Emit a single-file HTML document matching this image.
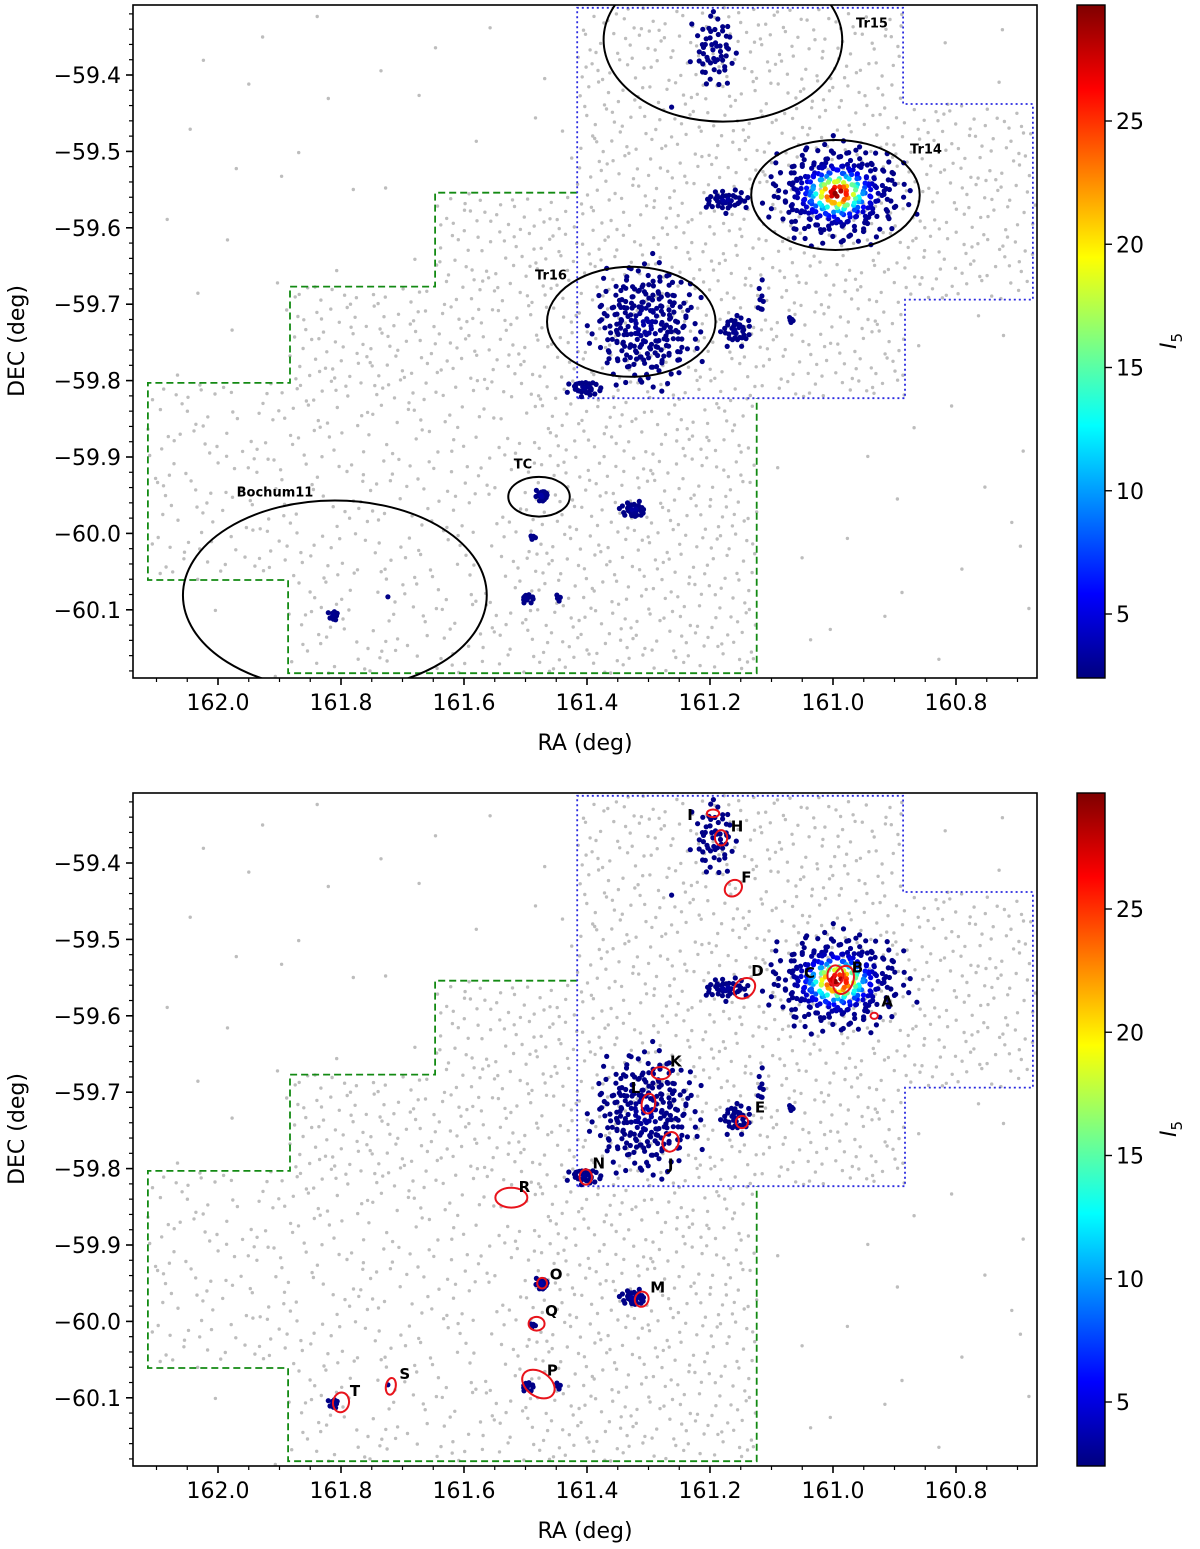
<!DOCTYPE html>
<html><head><meta charset="utf-8">
<style>
html,body{margin:0;padding:0;background:#fff;}
svg{display:block;font-family:"DejaVu Sans","Liberation Sans",sans-serif;}
</style></head>
<body>
<svg id="chart" width="1200" height="1549" viewBox="0 0 1200 1549" xmlns="http://www.w3.org/2000/svg">
<defs>
<linearGradient id="jet" x1="0" y1="1" x2="0" y2="0">
<stop offset="0" stop-color="#00007f"/><stop offset="0.125" stop-color="#0000ff"/>
<stop offset="0.375" stop-color="#00ffff"/><stop offset="0.625" stop-color="#ffff00"/>
<stop offset="0.875" stop-color="#ff0000"/><stop offset="1" stop-color="#7f0000"/>
</linearGradient>
<clipPath id="clipTop"><rect x="133" y="5" width="904" height="673"/></clipPath>
<clipPath id="clipBot"><rect x="133" y="793" width="904" height="673"/></clipPath>
</defs>
</svg>
<script>
// ---- data ----
const xTicks = [162.0, 161.8, 161.6, 161.4, 161.2, 161.0, 160.8];
const yTicks = [-59.4, -59.5, -59.6, -59.7, -59.8, -59.9, -60.0, -60.1];
const cbTicks = [5, 10, 15, 20, 25];
const greenRA  = [161.416,161.647,161.647,161.883,161.883,162.114,162.114,161.886,161.886,161.124,161.124];
const greenDEC = [-59.554,-59.554,-59.677,-59.677,-59.803,-59.803,-60.061,-60.061,-60.183,-60.183,-59.823];
const blueRA   = [161.416,161.416,160.886,160.886,160.675,160.675,160.883,160.883,161.416];
const blueDEC  = [-59.823,-59.312,-59.312,-59.438,-59.438,-59.694,-59.694,-59.823,-59.823];
const footRA   = [161.416,160.886,160.886,160.675,160.675,160.883,160.883,161.124,161.124,161.886,161.886,162.114,162.114,161.883,161.883,161.647,161.647,161.416];
const footDEC  = [-59.312,-59.312,-59.438,-59.438,-59.694,-59.694,-59.823,-59.823,-60.183,-60.183,-60.061,-60.061,-59.803,-59.803,-59.677,-59.677,-59.554,-59.554];
// cluster groups: centre, spread (deg), member count, peak I5, core width
const clRA   = [161.193,160.993,161.174,161.305,161.157,161.117,161.403,161.473,161.324,161.489,161.497,161.445,161.812,161.723,161.068,161.262];
const clDEC  = [-59.367,-59.555,-59.564,-59.727,-59.734,-59.694,-59.810,-59.950,-59.969,-60.005,-60.085,-60.085,-60.107,-60.083,-59.721,-59.442];
const clSRA  = [0.034,0.100,0.035,0.078,0.022,0.006,0.025,0.010,0.020,0.005,0.012,0.006,0.008,0.001,0.004,0.001];
const clSDEC = [0.044,0.058,0.013,0.072,0.020,0.022,0.010,0.008,0.010,0.003,0.006,0.005,0.008,0.001,0.004,0.001];
const clN    = [55,320,40,250,35,8,30,18,30,5,12,4,10,1,5,1];
const clPeak = [3,29.5,3.5,3.5,3,3,3,4,3.5,3,3,3,3,3,3,3];
const clCore = [0.26,0.36,0.26,0.26,0.26,0.26,0.26,0.26,0.26,0.26,0.26,0.26,0.26,0.26,0.26,0.26];
// top-panel named regions (black ellipses)
const regName = ["Tr15","Tr14","Tr16","TC","Bochum11"];
const regRA   = [161.179,160.996,161.328,161.478,161.810];
const regDEC  = [-59.354,-59.557,-59.723,-59.952,-60.081];
const regA    = [0.194,0.137,0.137,0.050,0.247];
const regB    = [0.107,0.072,0.072,0.026,0.124];
// bottom-panel subclusters (red ellipses)
const subName = ["A","B","C","D","E","F","H","I","J","K","L","M","N","O","P","Q","R","S","T"];
const subRA   = [160.933,160.983,160.996,161.144,161.148,161.162,161.182,161.195,161.264,161.280,161.300,161.311,161.402,161.473,161.479,161.482,161.523,161.719,161.800];
const subDEC  = [-59.600,-59.553,-59.547,-59.564,-59.739,-59.433,-59.367,-59.335,-59.765,-59.675,-59.715,-59.971,-59.811,-59.950,-60.082,-60.003,-59.838,-60.085,-60.106];
const subA    = [0.006,0.016,0.013,0.019,0.010,0.015,0.010,0.010,0.013,0.015,0.011,0.011,0.010,0.008,0.029,0.013,0.026,0.008,0.013];
const subB    = [0.004,0.019,0.013,0.012,0.008,0.010,0.010,0.005,0.013,0.008,0.013,0.010,0.010,0.007,0.016,0.009,0.013,0.011,0.013];
const subRot  = [0,20,0,-40,0,-40,0,0,15,0,10,20,0,0,35,0,0,10,10];
const subLx   = [13,14,-26,13,18,13,16,-23,0,15,-13,16,13,14,14,15,13,14,14];
const subLy   = [-14,-12,-2,-17,-14,-10,-11,2,23,-11,-15,-11,-13,-8,-13,-12,-10,-12,-11];

// ---- axes ----
const NS = "http://www.w3.org/2000/svg";
const svg = document.getElementById('chart');
function xOf(ra){ return 218 + (162.0 - ra) * 615; }
function yOf(dec, off){ return off + 75 + (-59.4 - dec) * 764; }
function cbY(v, off){ return off + 614 - (v - 5) * 24.65; }
function jet(v){
  let t = Math.max(0, Math.min(1, (v - 2.4) / (29.7 - 2.4)));
  const f = (x) => Math.max(0, Math.min(1, x));
  const r = f(1.5 - Math.abs(4*t - 3)), g = f(1.5 - Math.abs(4*t - 2)), b = f(1.5 - Math.abs(4*t - 1));
  return `rgb(${Math.round(r*255)},${Math.round(g*255)},${Math.round(b*255)})`;
}
function mk(tag, attrs, parent){
  const e = document.createElementNS(NS, tag);
  for (const k in attrs) e.setAttribute(k, attrs[k]);
  (parent || svg).appendChild(e);
  return e;
}
function inFoot(ra, dec){
  let inside = false;
  for (let i = 0, j = footRA.length - 1; i < footRA.length; j = i++){
    const xi = footRA[i], yi = footDEC[i], xj = footRA[j], yj = footDEC[j];
    if (((yi > dec) !== (yj > dec)) && (ra < (xj - xi) * (dec - yi) / (yj - yi) + xi)) inside = !inside;
  }
  return inside;
}
function halton(i, b){ let f = 1, r = 0; while (i > 0){ f /= b; r += f * (i % b); i = Math.floor(i / b); } return r; }

function panel(off, mode){
  const g = mk('g', {});
  
  
  const plot = mk('g', {'clip-path': mode === 'top' ? 'url(#clipTop)' : 'url(#clipBot)'}, g);
  
  
  // field stars (low-discrepancy fill of the footprint)
  const field = mk('g', {fill: '#bdbdbd'}, plot);
  
  
  for (let i = 1; i < 3600; i++){
    const ra = 162.12 - halton(i, 2) * 1.46, dec = -59.31 - halton(i, 3) * 0.88;
    if (!inFoot(ra, dec) && halton(i, 5) > 0.04) continue;
    if (dec < -59.82 && ra > 161.5 && halton(i,7) < 0.35) continue;
    mk('circle', {cx: xOf(ra).toFixed(1), cy: yOf(dec, off).toFixed(1), r: 1.7}, field);
  }
  // footprints
  const gp = greenRA.map((r, i) => xOf(r).toFixed(1) + ',' + yOf(greenDEC[i], off).toFixed(1)).join(' ');
  const gl = mk('polyline', {points: gp, fill: 'none', stroke: '#138a13', 'stroke-width': 1.8, 'stroke-dasharray': '7,4'}, plot);
  
  
  const bp = blueRA.map((r, i) => xOf(r).toFixed(1) + ',' + yOf(blueDEC[i], off).toFixed(1)).join(' ');
  const bl = mk('polyline', {points: bp, fill: 'none', stroke: '#2a2ae0', 'stroke-width': 1.8, 'stroke-dasharray': '2,3'}, plot);
  
  
  // cluster members
  const mem = mk('g', {}, plot);
  
  
  const pts = [];
  for (let c = 0; c < clRA.length; c++){
    for (let k = 0; k < clN[c]; k++){
      const rr = Math.sqrt((k + 0.5) / clN[c]), th = k * 2.39996;
      const jitter = 0.6 + 0.8 * halton(k + 3 + c * 7, 3);
      const ra = clRA[c] + clSRA[c] * rr * Math.cos(th) * jitter;
      const dec = clDEC[c] + clSDEC[c] * rr * Math.sin(th) * jitter;
      const v = 2.6 + (clPeak[c] - 2.6) * Math.exp(-Math.pow(rr * jitter / clCore[c], 2));
      pts.push([ra, dec, v]);
    }
  }
  pts.sort((a, b) => a[2] - b[2]);
  for (const p of pts){
    const d = mk('circle', {cx: xOf(p[0]).toFixed(1), cy: yOf(p[1], off).toFixed(1), r: 2.6, fill: jet(p[2])}, mem);
    
    
  }
  if (mode === 'top'){
    for (let i = 0; i < regName.length; i++){
      const e = mk('ellipse', {cx: xOf(regRA[i]), cy: yOf(regDEC[i], off), rx: regA[i] * 615, ry: regB[i] * 764, fill: 'none', stroke: '#000', 'stroke-width': 2}, plot);
      
      
    }
    const lx = [872, 926, 551, 523, 275], ly = [24, 150, 276, 465, 493];
    for (let i = 0; i < regName.length; i++){
      const t = mk('text', {x: lx[i], y: ly[i] + off, 'font-size': 13, 'font-weight': 'bold', 'text-anchor': 'middle', 'dominant-baseline': 'middle'}, g);
      t.textContent = regName[i];
      
      
    }
  } else {
    for (let i = 0; i < subName.length; i++){
      const cx = xOf(subRA[i]), cy = yOf(subDEC[i], off);
      const e = mk('ellipse', {cx: cx, cy: cy, rx: subA[i] * 615, ry: subB[i] * 764, fill: 'none', stroke: '#e8131b', 'stroke-width': 2, transform: `rotate(${subRot[i]} ${cx} ${cy})`}, plot);
      
      
      const t = mk('text', {x: cx + subLx[i], y: cy + subLy[i], 'font-size': 15, 'font-weight': 'bold', 'text-anchor': 'middle', 'dominant-baseline': 'middle'}, g);
      t.textContent = subName[i];
      
      
    }
  }
  // frame
  const fr = mk('rect', {x: 133, y: off + 5, width: 904, height: 673, fill: 'none', stroke: '#000', 'stroke-width': 1.6}, g);
  
  
  const yb = off + 678;
  // x ticks
  for (let v = 162.10; v >= 160.68; v -= 0.05){
    const x = xOf(v);
    const maj = xTicks.some(t => Math.abs(t - v) < 1e-6);
    mk('line', {x1: x, y1: yb, x2: x, y2: yb + (maj ? 7 : 4), stroke: '#000', 'stroke-width': maj ? 1.6 : 1.2}, g);
  }
  xTicks.forEach(v => {
    const t = mk('text', {x: xOf(v), y: yb + 32, 'font-size': 22, 'text-anchor': 'middle'}, g);
    t.textContent = v.toFixed(1);
    
    
  });
  // y ticks
  for (let k = 0; k <= 44; k++){
    const v = -59.30 - k * 0.02;
    const y = yOf(v, off);
    if (y < off + 5 || y > yb) continue;
    const maj = yTicks.some(t => Math.abs(t - v) < 1e-6);
    mk('line', {x1: 133, y1: y, x2: 133 - (maj ? 7 : 4), y2: y, stroke: '#000', 'stroke-width': maj ? 1.6 : 1.2}, g);
  }
  yTicks.forEach(v => {
    const t = mk('text', {x: 121, y: yOf(v, off) + 8, 'font-size': 22, 'text-anchor': 'end'}, g);
    t.textContent = '\u2212' + Math.abs(v).toFixed(1);
    
    
  });
  const xt = mk('text', {x: 585, y: off + 750, 'font-size': 22, 'text-anchor': 'middle'}, g);
  xt.textContent = 'RA (deg)';
  
  
  const yt = mk('text', {x: 24, y: off + 341, 'font-size': 22, 'text-anchor': 'middle', transform: `rotate(-90 24 ${off + 341})`}, g);
  yt.textContent = 'DEC (deg)';
  
  
  // colorbar
  const cb = mk('rect', {x: 1077, y: off + 5, width: 28, height: 673, fill: 'url(#jet)', stroke: '#000', 'stroke-width': 1.4}, g);
  
  
  cbTicks.forEach(v => {
    const y = cbY(v, off);
    mk('line', {x1: 1105, y1: y, x2: 1112, y2: y, stroke: '#000', 'stroke-width': 1.4}, g);
    const t = mk('text', {x: 1116, y: y + 8, 'font-size': 22}, g);
    t.textContent = v;
    
    
  });
  const ct = mk('text', {x: 1176, y: off + 341, 'font-size': 22, 'font-style': 'italic', 'text-anchor': 'middle', transform: `rotate(-90 1176 ${off + 341})`}, g);
  ct.innerHTML = 'I<tspan font-size="15" font-style="normal" dy="6">5</tspan>';
  
  
}
panel(0, 'top');
panel(788, 'bottom');
</script>
</body></html>
